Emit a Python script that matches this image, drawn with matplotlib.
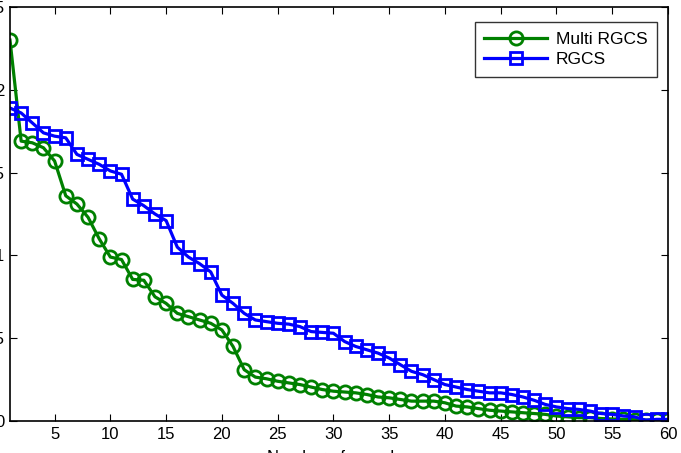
import matplotlib
matplotlib.use("Agg")
import matplotlib.pyplot as plt

plt.rcParams["font.family"] = ["Liberation Sans", "DejaVu Sans"]

# =========================
# DATA
# =========================

iterations = list(range(1, 61))

multi_rgcs = [
    2.30, 1.69, 1.68, 1.65, 1.57, 1.36, 1.31, 1.23, 1.10, 0.99,
    0.975, 0.855, 0.85, 0.75, 0.71, 0.65, 0.63, 0.61, 0.59, 0.55,
    0.45, 0.31, 0.265, 0.255, 0.24, 0.23, 0.22, 0.205, 0.19, 0.18,
    0.175, 0.17, 0.16, 0.145, 0.14, 0.13, 0.12, 0.12, 0.12, 0.11,
    0.09, 0.085, 0.075, 0.065, 0.06, 0.055, 0.05, 0.045, 0.04, 0.03,
    0.025, 0.02, 0.02, 0.015, 0.012, 0.01, 0.008, 0.006, 0.005, 0.005,
]

rgcs = [
    1.89, 1.86, 1.80, 1.74, 1.72, 1.71, 1.61, 1.58, 1.55, 1.51,
    1.49, 1.34, 1.30, 1.25, 1.21, 1.05, 0.99, 0.95, 0.90, 0.76,
    0.71, 0.65, 0.61, 0.60, 0.59, 0.585, 0.57, 0.54, 0.535, 0.53,
    0.48, 0.45, 0.43, 0.41, 0.38, 0.34, 0.30, 0.28, 0.25, 0.22,
    0.205, 0.19, 0.18, 0.17, 0.17, 0.16, 0.145, 0.125, 0.10, 0.085,
    0.075, 0.07, 0.06, 0.045, 0.04, 0.03, 0.025, 0.005, 0.01, 0.01,
]

x_ticks = [5, 10, 15, 20, 25, 30, 35, 40, 45, 50, 55, 60]
y_ticks = [0, 0.5, 1, 1.5, 2, 2.5]
y_tick_labels = ["0", "0.5", "1", "1.5", "2", "2.5"]

# =========================
# PLOT
# =========================

fig = plt.figure(figsize=(6.81, 4.53), dpi=100)
ax = fig.add_axes([10 / 681, 1 - 421 / 453, 658 / 681, 414 / 453])

ax.plot(
    iterations,
    multi_rgcs,
    color="#008000",
    linewidth=2.3,
    marker="o",
    markersize=9.5,
    markerfacecolor="none",
    markeredgewidth=2,
    label="Multi RGCS",
)

ax.plot(
    iterations,
    rgcs,
    color="#0000ff",
    linewidth=2.3,
    marker="s",
    markersize=8.5,
    markerfacecolor="none",
    markeredgewidth=2,
    label="RGCS",
)

ax.set_xlim(1, 60)
ax.set_ylim(0, 2.5)
ax.set_xticks(x_ticks)
ax.set_yticks(y_ticks)
ax.set_yticklabels(y_tick_labels)

ax.tick_params(
    direction="in",
    top=True,
    right=True,
    length=5,
    width=0.8,
    labelsize=12,
    pad=4,
)

for spine in ax.spines.values():
    spine.set_linewidth(1.2)

ax.set_xlabel("Number of samples", fontsize=12, labelpad=6)

leg = ax.legend(
    loc="upper right",
    bbox_to_anchor=(0.983, 0.964),
    borderaxespad=0,
    fontsize=12.5,
    fancybox=False,
    edgecolor="black",
    handlelength=3.6,
    borderpad=0.55,
    labelspacing=0.3,
    handletextpad=0.5,
)
leg.get_frame().set_linewidth(1.0)

fig.savefig("out.png", dpi=100)
